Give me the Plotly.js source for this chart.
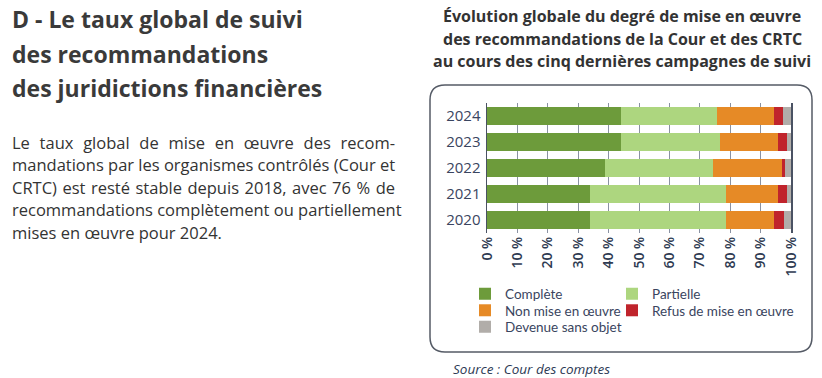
<!DOCTYPE html>
<html>
<head>
<meta charset="utf-8">
<script src="https://cdn.plot.ly/plotly-3.0.1.min.js"></script>
<style>
  html, body { margin: 0; padding: 0; background: #ffffff; }
  #chart { width: 822px; height: 378px; }
</style>
</head>
<body>
<div id="chart"></div>
<script>
// ---- Data ----
const years = ['2020', '2021', '2022', '2023', '2024'];
const complete = [34.0, 34.0, 38.7, 44.1, 44.1];
const partielle = [44.5, 44.5, 35.6, 32.5, 31.6];
const nonMise = [15.9, 17.2, 22.7, 19.0, 18.6];
const refus = [3.4, 3.1, 1.1, 3.2, 3.1];
const devenue = [2.2, 1.2, 1.9, 1.2, 2.6];

const seriesNames = ['Complète', 'Partielle', 'Non mise en œuvre', 'Refus de mise en œuvre', 'Devenue sans objet'];
const seriesValues = [complete, partielle, nonMise, refus, devenue];
const seriesColors = ['#6d9b3b', '#add67f', '#e68a26', '#c0242c', '#b1ada9'];

const chartTitleLines = [
  'Évolution globale du degré de mise en œuvre',
  'des recommandations de la Cour et des CRTC',
  'au cours des cinq dernières campagnes de suivi'
];
const headingLines = [
  'D - Le taux global de suivi',
  'des recommandations',
  'des juridictions financières'
];
const bodyLines = [
  'Le taux global de mise en œuvre des recom-',
  'mandations par les organismes contrôlés (Cour et',
  'CRTC) est resté stable depuis 2018, avec 76 % de',
  'recommandations complètement ou partiellement',
  'mises en œuvre pour 2024.'
];
const sourceText = 'Source : Cour des comptes';

// ---- Geometry helpers (pixel -> paper) ----
const W = 822, H = 378;
const M = { l: 487, r: 31, t: 103, b: 145, autoexpand: false };
const PW = W - M.l - M.r, PH = H - M.t - M.b;
const px = p => (p - M.l) / PW;
const py = p => (H - M.b - p) / PH;

const FONT = '"Open Sans", "Noto Sans", sans-serif';
const LEGEND_FONT = 'Lato, "Open Sans", sans-serif';

// legend slots (one legend per entry, two columns)
const legendIds = ['legend', 'legend2', 'legend3', 'legend4', 'legend5'];
const legendPos = [[465, 294], [612, 294], [465, 310.5], [612, 310.5], [465, 327]];

const traces = seriesNames.map((name, i) => ({
  type: 'bar',
  orientation: 'h',
  name: name,
  y: years,
  x: seriesValues[i],
  legend: legendIds[i],
  marker: { color: seriesColors[i], line: { width: 0 } },
  hoverinfo: 'skip'
}));

const annotations = [];
chartTitleLines.forEach((t, i) => annotations.push({
  text: '<b>' + t + '</b>', xref: 'paper', yref: 'paper',
  x: px(622), y: py(16 + i * 22.5), xanchor: 'center', yanchor: 'middle',
  showarrow: false, font: { family: FONT, size: 16, color: '#333333' }
}));
headingLines.forEach((t, i) => annotations.push({
  text: '<b>' + t + '</b>', xref: 'paper', yref: 'paper',
  x: px(10), y: py(19 + i * 34.5), xanchor: 'left', yanchor: 'middle', align: 'left',
  showarrow: false, font: { family: FONT, size: 23, color: '#3a3a3a' }
}));
bodyLines.forEach((t, i) => annotations.push({
  text: t, xref: 'paper', yref: 'paper',
  x: px(10), y: py(142 + i * 22.6), xanchor: 'left', yanchor: 'middle', align: 'left',
  showarrow: false, font: { family: FONT, size: 16.5, color: '#333333' }
}));
annotations.push({
  text: '<i>' + sourceText + '</i>', xref: 'paper', yref: 'paper',
  x: px(451), y: py(369), xanchor: 'left', yanchor: 'middle', align: 'left',
  showarrow: false, font: { family: FONT, size: 13.5, color: '#2d3a55' }
});

// rounded frame
const bx0 = 430, bx1 = 812, by0 = 85, by1 = 352, r = 15;
const P = (x, y) => px(x) + ',' + py(y);
const framePath = 'M' + P(bx0 + r, by0) + ' L' + P(bx1 - r, by0) +
  ' Q' + P(bx1, by0) + ' ' + P(bx1, by0 + r) +
  ' L' + P(bx1, by1 - r) + ' Q' + P(bx1, by1) + ' ' + P(bx1 - r, by1) +
  ' L' + P(bx0 + r, by1) + ' Q' + P(bx0, by1) + ' ' + P(bx0, by1 - r) +
  ' L' + P(bx0, by0 + r) + ' Q' + P(bx0, by0) + ' ' + P(bx0 + r, by0) + ' Z';

const layout = {
  width: W, height: H,
  margin: M,
  paper_bgcolor: '#ffffff',
  plot_bgcolor: '#ffffff',
  barmode: 'stack',
  bargap: 0.27,
  showlegend: true,
  hovermode: false,
  font: { family: FONT, color: '#333333' },
  xaxis: {
    range: [0, 100], dtick: 10, tick0: 0,
    ticksuffix: ' %', tickangle: -90,
    showgrid: true, gridcolor: '#8a92a2', gridwidth: 1,
    zeroline: false, showline: false, ticks: '',
    tickfont: { family: FONT, size: 14, color: '#2f3b52', weight: 600 },
    automargin: false,
    fixedrange: true
  },
  yaxis: {
    type: 'category', categoryorder: 'array', categoryarray: years,
    showline: true, mirror: true, linecolor: '#4a5263', linewidth: 1.5,
    showgrid: false, zeroline: false, ticks: '',
    tickfont: { family: FONT, size: 15, color: '#3a4560' },
    ticklabelstandoff: 2,
    automargin: false,
    fixedrange: true
  },
  annotations: annotations,
  shapes: [{
    type: 'path', xref: 'paper', yref: 'paper', path: framePath,
    line: { color: '#555b66', width: 1.5 }, fillcolor: 'rgba(0,0,0,0)', layer: 'below'
  }]
};

legendIds.forEach((id, i) => {
  layout[id] = {
    orientation: 'h',
    xref: 'paper', yref: 'paper',
    x: px(legendPos[i][0]), xanchor: 'left',
    y: py(legendPos[i][1]), yanchor: 'middle',
    font: { family: LEGEND_FONT, size: 13.5, color: '#3a4560' },
    bgcolor: 'rgba(0,0,0,0)', borderwidth: 0,
    itemclick: false, itemdoubleclick: false
  };
});

Plotly.newPlot('chart', traces, layout, { displayModeBar: false, staticPlot: true }).then(gd => {
  // justify the body paragraph lines (all but the last) to the column width
  const targetWidth = 383;
  const texts = gd.querySelectorAll('.annotation-text');
  texts.forEach(el => {
    const content = el.textContent;
    const idx = bodyLines.indexOf(content);
    if (idx >= 0 && idx < bodyLines.length - 1) {
      const spaces = (content.match(/ /g) || []).length;
      const w = el.getComputedTextLength();
      if (spaces > 0 && w < targetWidth) {
        el.style.wordSpacing = ((targetWidth - w) / spaces) + 'px';
      }
    }
  });
});
</script>
</body>
</html>
